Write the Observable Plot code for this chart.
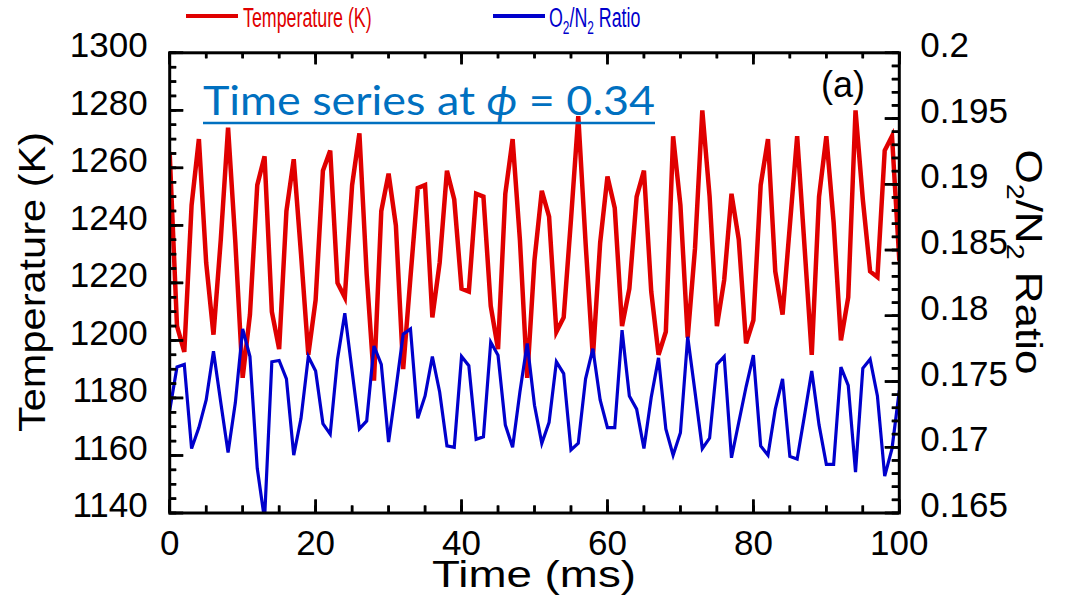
<!DOCTYPE html>
<html><head><meta charset="utf-8">
<script src="https://cdn.jsdelivr.net/npm/d3@7"></script>
<script src="https://cdn.jsdelivr.net/npm/@observablehq/plot@0.6"></script>
<style>
body{margin:0;background:#fff;}
#chart{width:1068px;height:596px;}
</style></head><body><div id="chart"></div>
<script>
// ---- data ----
const time = [0,1,2,3,4,5,6,7,8,9,10,11,12,13,14,15,16,17,18,19,20,21,22,23,24,25,26,27,28,29,30,31,32,33,34,35,36,37,38,39,40,41,42,43,44,45,46,47,48,49,50,51,52,53,54,55,56,57,58,59,60,61,62,63,64,65,66,67,68,69,70,71,72,73,74,75,76,77,78,79,80,81,82,83,84,85,86,87,88,89,90,91,92,93,94,95,96,97,98,99,100];
const temperature = [1265,1205,1196,1247,1270,1227,1202,1235,1274,1234,1187,1209,1254,1264,1210,1197,1245,1263,1230,1195,1214,1259,1266,1220,1215,1254,1272,1223,1186,1245,1258,1240,1190,1222,1253,1254,1208,1227,1259,1249,1218,1217,1251,1250,1212,1197,1251,1270,1235,1187,1228,1252,1243,1203,1208,1242,1278,1234,1194,1234,1257,1246,1205,1218,1250,1259,1217,1195,1203,1271,1247,1201,1232,1280,1250,1205,1221,1251,1235,1199,1207,1254,1270,1224,1209,1240,1271,1233,1195,1250,1271,1241,1200,1215,1280,1249,1224,1222,1266,1271,1228];
const o2n2Ratio = [0.1728,0.1761,0.1763,0.1699,0.1715,0.1736,0.1773,0.1734,0.1696,0.1734,0.1790,0.1769,0.1684,0.1645,0.1765,0.1766,0.1752,0.1694,0.1722,0.1769,0.1758,0.1718,0.1710,0.1767,0.1802,0.1758,0.1714,0.1720,0.1777,0.1763,0.1704,0.1744,0.1786,0.1790,0.1722,0.1739,0.1769,0.1742,0.1701,0.1700,0.1769,0.1762,0.1706,0.1708,0.1780,0.1770,0.1717,0.1700,0.1742,0.1779,0.1732,0.1703,0.1719,0.1765,0.1756,0.1698,0.1703,0.1752,0.1775,0.1736,0.1715,0.1715,0.1789,0.1739,0.1729,0.1699,0.1738,0.1768,0.1714,0.1694,0.1711,0.1784,0.1742,0.1699,0.1707,0.1763,0.1769,0.1692,0.1719,0.1746,0.1770,0.1701,0.1694,0.1729,0.1752,0.1693,0.1691,0.1724,0.1758,0.1717,0.1687,0.1687,0.1761,0.1747,0.1681,0.1760,0.1767,0.1739,0.1678,0.1699,0.1743];
const tempTicks = [1140,1160,1180,1200,1220,1240,1260,1280,1300];
const ratioTicks = [0.165,0.17,0.175,0.18,0.185,0.19,0.195,0.2];
const ratioTickLabels = ["0.165","0.17","0.175","0.18","0.185","0.19","0.195","0.2"];
const timeTicks = [0,20,40,60,80,100];

// ---- setup ----
const W = 1068, H = 596, ML = 169.2, MR = 169.2, MT = 52.3, MB = 83.5;
const PW = W - ML - MR, PH = H - MT - MB;
const tDomain = [1140,1300], rDomain = [0.165,0.2];
const r2t = d3.scaleLinear(rDomain, tDomain);
const data = time.map((t,i)=>({t, temp: temperature[i], ratio: o2n2Ratio[i]}));
const RED = "#E00000", BLUE = "#0000CC", TITLE = "#0070C0";
const FONT = "'Liberation Sans', Arial, sans-serif";
const ratioLabelByT = new Map(ratioTicks.map((r,i)=>[r2t(r), ratioTickLabels[i]]));
const minorT = d3.range(1140,1301,5);
const minorR = d3.range(165,201,1).map(v=>r2t(v/1000));
const minorX = d3.range(0,101,5);

// inward tick marks (Plot tick marks; length in px from the frame edge)
const TW = 2.5;
const tickL = (vals, len) => Plot.tickY(vals, {y: d=>d, insetRight: PW - len, stroke:"black", strokeWidth:TW});
const tickR = (vals, len) => Plot.tickY(vals, {y: d=>d, insetLeft: PW - len, stroke:"black", strokeWidth:TW});
const tickB = (vals, len) => Plot.tickX(vals, {x: d=>d, insetTop: PH - len, stroke:"black", strokeWidth:TW});
const tickT = (vals, len) => Plot.tickX(vals, {x: d=>d, insetBottom: PH - len, stroke:"black", strokeWidth:TW});

const plot = Plot.plot({
  width:W, height:H,
  marginLeft:ML, marginRight:MR, marginTop:MT, marginBottom:MB,
  x:{domain:[0,100], axis:null},
  y:{domain:tDomain, axis:null},
  style:{fontFamily:FONT, background:"white", color:"black"},
  marks:[
    Plot.line(data,{x:"t", y:"temp", stroke:RED, strokeWidth:4.5, strokeLinejoin:"miter", strokeMiterlimit:4, clip:true}),
    Plot.line(data,{x:"t", y:d=>r2t(d.ratio), stroke:BLUE, strokeWidth:3.2, strokeLinejoin:"miter", strokeMiterlimit:4, clip:true}),
    Plot.axisY(tempTicks, {anchor:"left", tickSize:0, tickPadding:22, dy:-7, fontSize:35, label:null, tickFormat:d=>String(d)}),
    Plot.axisY(ratioTicks.map(r2t), {anchor:"right", tickSize:0, tickPadding:21, dy:-7, fontSize:35, label:null, tickFormat:d=>ratioLabelByT.get(d)}),
    Plot.axisX(timeTicks, {anchor:"bottom", tickSize:0, tickPadding:17, fontSize:35, label:null, tickFormat:d=>String(d)}),
    Plot.frame({strokeWidth:3, stroke:"black"}),
    tickL(minorT, 7), tickL(tempTicks, 14),
    tickR(minorR, 7), tickR(ratioTicks.map(r2t), 14),
    tickB(minorX, 7), tickB(timeTicks, 13),
    tickT(minorX, 6), tickT(timeTicks, 12)
  ]
});
document.getElementById("chart").appendChild(plot);

const svg = d3.select(plot);
const sx = plot.scale("x"), sy = plot.scale("y");
const X0 = ML, X1 = W - MR, Y0 = MT, Y1 = H - MB;

// same inward ticks drawn again through Plot's scales (explicit stroke on each line)
const tg = svg.append("g");
const addLine = (x1,x2,y1,y2) => tg.append("line").attr("x1",x1).attr("x2",x2).attr("y1",y1).attr("y2",y2)
  .attr("stroke","#000").attr("stroke-width",TW);
const hTicks = (vals, xFrom, len) => vals.forEach(v => { const y = sy.apply(v) + 0.5; addLine(xFrom, xFrom+len, y, y); });
const vTicks = (vals, yFrom, len) => vals.forEach(v => { const x = sx.apply(v) + 0.5; addLine(x, x, yFrom, yFrom+len); });
hTicks(minorT, X0, 7); hTicks(tempTicks, X0, 14);
hTicks(minorR, X1, -7); hTicks(ratioTicks.map(r2t), X1, -14);
vTicks(minorX, Y1, -7); vTicks(timeTicks, Y1, -13);
vTicks(minorX, Y0, 6); vTicks(timeTicks, Y0, 12);

// ---- annotations ----
const g = svg.append("g").attr("font-family", FONT).attr("text-anchor","start");

// legend
g.append("line").attr("x1",186).attr("x2",238).attr("y1",16).attr("y2",16).attr("stroke",RED).attr("stroke-width",4);
g.append("text").attr("transform","translate(243,26.5) scale(0.66,1)").attr("font-size",27).attr("fill",RED).text("Temperature (K)");
g.append("line").attr("x1",493).attr("x2",545).attr("y1",16).attr("y2",16).attr("stroke",BLUE).attr("stroke-width",4);
const lr = g.append("text").attr("transform","translate(549,26.5) scale(0.66,1)").attr("font-size",27).attr("fill",BLUE);
lr.append("tspan").text("O");
lr.append("tspan").attr("font-size",18).attr("dy",7).text("2");
lr.append("tspan").attr("dy",-7).text("/N");
lr.append("tspan").attr("font-size",18).attr("dy",7).text("2");
lr.append("tspan").attr("dy",-7).text(" Ratio");

// title
const tt = g.append("text").attr("x",203).attr("y",115).attr("font-family","Lato, 'Open Sans', sans-serif")
  .attr("font-size",41).attr("fill",TITLE).attr("textLength",452).attr("lengthAdjust","spacingAndGlyphs");
tt.append("tspan").text("Time series at ");
tt.append("tspan").attr("font-style","italic").text("ϕ");
tt.append("tspan").text(" = 0.34");
g.append("line").attr("x1",203).attr("x2",655).attr("y1",123).attr("y2",123).attr("stroke",TITLE).attr("stroke-width",2.5);

// panel label
g.append("text").attr("x",821).attr("y",97).attr("font-size",36).attr("fill","black").text("(a)");

// axis titles
g.append("text").attr("transform","translate(44.5,282) rotate(-90)").attr("text-anchor","middle")
  .attr("font-size",37).attr("textLength",300).attr("lengthAdjust","spacingAndGlyphs").text("Temperature (K)");
g.append("text").attr("x",534).attr("y",587).attr("text-anchor","middle")
  .attr("font-size",37).attr("textLength",204).attr("lengthAdjust","spacingAndGlyphs").text("Time (ms)");
const rt = g.append("text").attr("transform","translate(1016,262) rotate(90)").attr("text-anchor","middle").attr("font-size",37)
  .attr("textLength",225).attr("lengthAdjust","spacingAndGlyphs");
rt.append("tspan").text("O");
rt.append("tspan").attr("font-size",24).attr("dy",9).text("2");
rt.append("tspan").attr("dy",-9).text("/N");
rt.append("tspan").attr("font-size",24).attr("dy",9).text("2");
rt.append("tspan").attr("dy",-9).text(" Ratio");
</script></body></html>
